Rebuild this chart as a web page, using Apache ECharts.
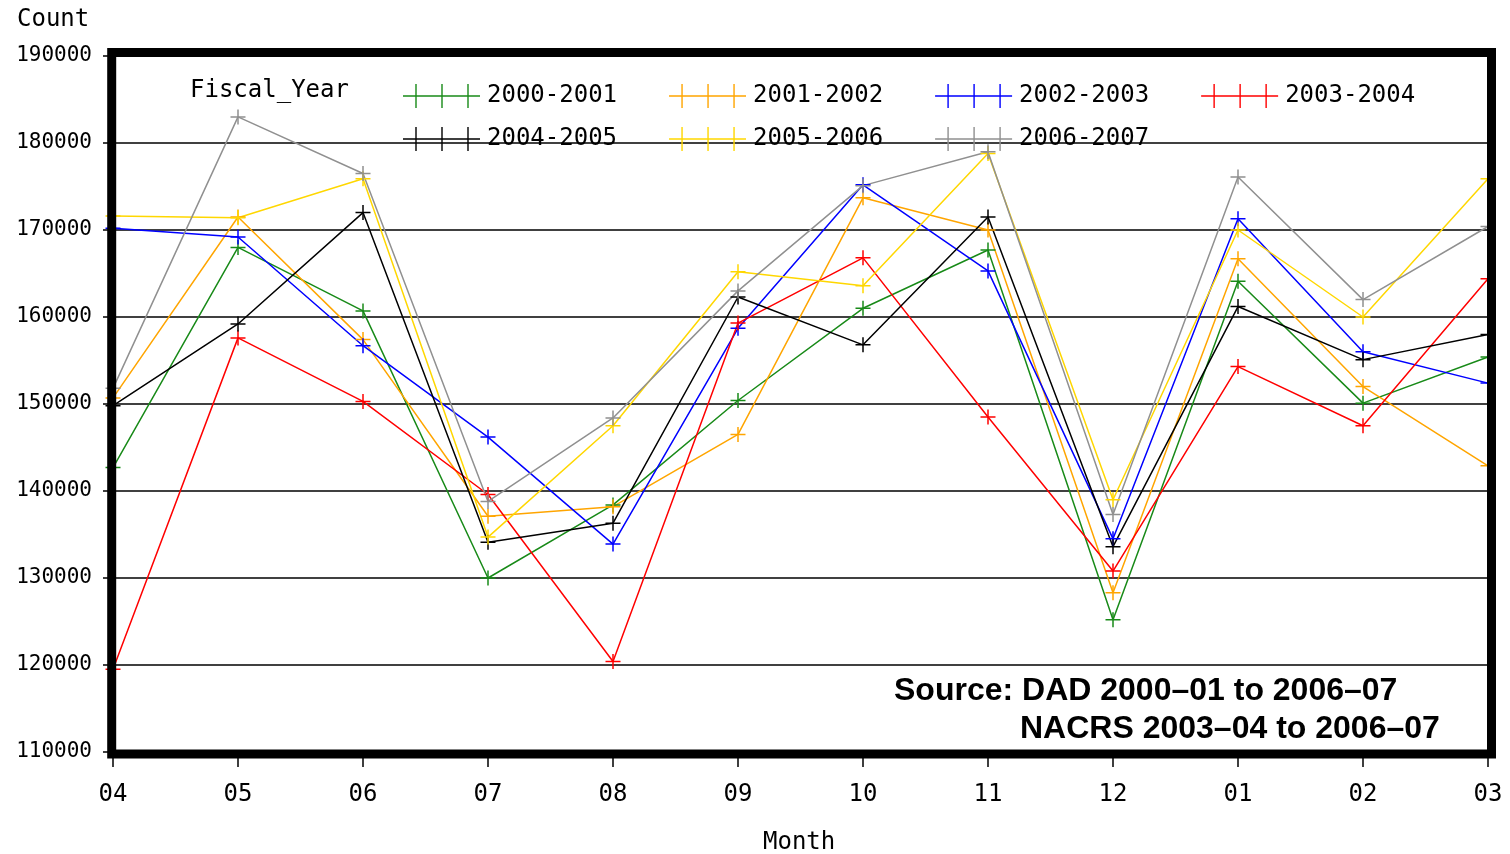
<!DOCTYPE html>
<html>
<head>
<meta charset="utf-8">
<script src="https://cdn.jsdelivr.net/npm/echarts@6/dist/echarts.min.js"></script>
<style>
html,body{margin:0;padding:0;background:#fff;}
#chart{width:1510px;height:854px;}
</style>
</head>
<body>
<div id="chart"></div>
<script>
// ---- data ----
var months = ['04','05','06','07','08','09','10','11','12','01','02','03'];
var seriesNames = ['2000-2001','2001-2002','2002-2003','2003-2004','2004-2005','2005-2006','2006-2007'];
var fy2000 = [142700,168000,160700,130000,138400,150400,161000,167700,125200,164100,150100,155400];
var fy2001 = [150700,171500,157400,137100,138200,146500,173700,170000,128300,166700,152000,142900];
var fy2002 = [170200,169200,156700,146200,133900,158700,175200,165300,134500,171300,156000,152400];
var fy2003 = [119500,157600,150300,139600,120400,159300,166800,148500,130800,154300,147500,164400];
var fy2004 = [149800,159200,172000,134100,136300,162300,156800,171500,133600,161200,155100,158000];
var fy2005 = [171600,171400,175900,134700,147500,165200,163600,178800,139000,170000,160000,175900];
var fy2006 = [151800,183000,176500,138800,148400,163000,175100,179000,137300,176100,162000,170400];
var yMin = 110000, yMax = 190000, yStep = 10000;
var sourceLine1 = 'Source: DAD 2000\u201301 to 2006\u201307';
var sourceLine2 = 'NACRS 2003\u201304 to 2006\u201307';

var values = [fy2000, fy2001, fy2002, fy2003, fy2004, fy2005, fy2006];
var colors = ['#188a18','#ffa500','#0000ff','#ff0000','#000000','#ffd700','#909090'];

var plusSym = 'path://M0,6.3 H14 V7.7 H0 Z M6.3,0 H7.7 V14 H6.3 Z';
var legendSym = 'path://M0,11.3 H77 V12.7 H0 Z M12.3,0 H13.7 V24 H12.3 Z M38.3,0 H39.7 V24 H38.3 Z M64.3,0 H65.7 V24 H64.3 Z';
var mono = 'DejaVu Sans Mono';

var series = seriesNames.map(function(n, i){
  return {
    name: n, type: 'line', data: values[i],
    symbol: plusSym, symbolSize: 15,
    lineStyle: {color: colors[i], width: 1.5},
    itemStyle: {color: colors[i]},
    emphasis: {disabled: true},
    animation: false
  };
});

function legendCfg(names, top){
  return {
    data: names, left: 398, top: top, orient: 'horizontal',
    icon: legendSym, itemWidth: 77, itemHeight: 24, itemGap: 52,
    selectedMode: false,
    textStyle: {fontFamily: mono, fontSize: 24, color: '#000', padding: [0,0,0,2]}
  };
}

var chart = echarts.init(document.getElementById('chart'));
chart.setOption({
  backgroundColor: '#fff',
  animation: false,
  grid: {left: 113, right: 22, top: 56, bottom: 102, containLabel: false},
  legend: [legendCfg(seriesNames.slice(0,4), 79), legendCfg(seriesNames.slice(4), 122)],
  xAxis: {
    type: 'category', data: months, boundaryGap: false,
    axisLine: {show: true, lineStyle: {color: '#000', width: 2}},
    axisTick: {show: true, length: 15, lineStyle: {color: '#000', width: 1.5}},
    axisLabel: {margin: 31, fontFamily: mono, fontSize: 24, color: '#000'},
    splitLine: {show: false}
  },
  yAxis: {
    type: 'value', min: yMin, max: yMax, interval: yStep,
    axisLine: {show: true, lineStyle: {color: '#000', width: 2}},
    axisTick: {show: true, length: 10, lineStyle: {color: '#000', width: 1.5}},
    axisLabel: {margin: 21, fontFamily: mono, fontSize: 21, color: '#000',
                formatter: function(v){ return String(v); }},
    splitLine: {show: true, lineStyle: {color: '#000', width: 1.6}}
  },
  graphic: [
    {type: 'rect', z: 100, silent: true,
     shape: {x: 111.7, y: 52.5, width: 1379.8, height: 701.5},
     style: {fill: 'none', stroke: '#000', lineWidth: 9}},
    {type: 'text', left: 17, top: 8, z: 100,
     style: {text: 'Count', font: '24px "DejaVu Sans Mono"', fill: '#000'}},
    {type: 'text', left: 190, top: 79, z: 100,
     style: {text: 'Fiscal_Year', font: '24px "DejaVu Sans Mono"', fill: '#000'}},
    {type: 'text', left: 763, top: 831, z: 100,
     style: {text: 'Month', font: '24px "DejaVu Sans Mono"', fill: '#000'}},
    {type: 'text', left: 894, top: 675, z: 100,
     style: {text: sourceLine1, font: 'bold 32px "Liberation Sans", Arial, sans-serif', fill: '#000'}},
    {type: 'text', left: 1020, top: 713, z: 100,
     style: {text: sourceLine2, font: 'bold 32px "Liberation Sans", Arial, sans-serif', fill: '#000'}}
  ],
  series: series
});
</script>
</body>
</html>
